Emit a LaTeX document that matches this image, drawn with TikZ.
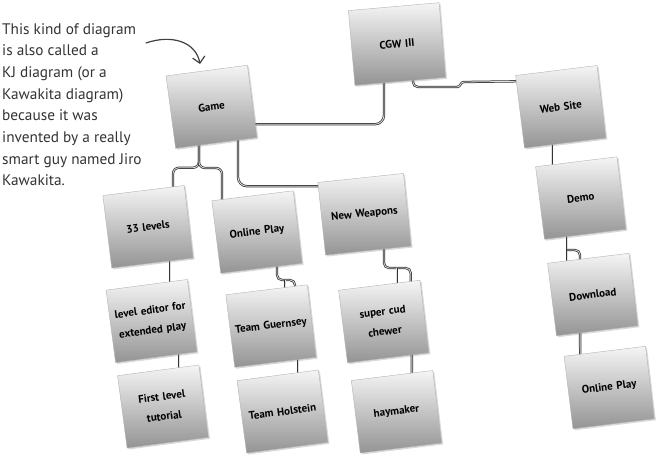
\documentclass[tikz,border=0pt]{standalone}
\usepackage{fontspec}
\setmainfont{PT Sans}
\usetikzlibrary{calc,shadows,arrows.meta}
\pgfdeclarelayer{background}
\pgfsetlayers{background,main}
\begin{document}
\begin{tikzpicture}[x=1pt,y=-1pt,
  kjbox/.style={draw=black!30, line width=0.4pt, top color=black!4, bottom color=black!42,
    minimum width=82pt, minimum height=73pt, inner sep=2pt, align=center, text width=76pt,
    font=\bfseries\fontsize{11}{20}\selectfont, rotate=#1,
    drop shadow={opacity=0.3, shadow xshift=1.5pt, shadow yshift=-1.5pt}},
  kjbox/.default=7,
  conn/.style={draw=black!80, line width=0.75pt, double=black!12, double distance=0.8pt,
    rounded corners=6pt},
  note/.style={align=left, inner sep=0pt, text=black!80, font=\fontsize{15.3}{21.7}\selectfont}]
\useasboundingbox (0,0) rectangle (659,462);

% annotation
\node[note, anchor=north west] (annot) at (2,23) {This kind of diagram\\is also called a\\KJ diagram (or a\\Kawakita diagram)\\because it was\\invented by a really\\smart guy named Jiro\\Kawakita.};
\coordinate (arrS) at (146,43);
\coordinate (arrT) at (200,64);
\draw[black!75, line width=1.2pt, line cap=round, -{Straight Barb[length=6pt,width=12pt,line cap=round]}]
  (arrS) .. controls (172,34) and (196,42) .. (arrT);

% boxes
\node[kjbox=7.5] (game) at (211.5,106.75) {Game};
\node[kjbox=5, minimum width=91pt, minimum height=75pt] (cgw) at (397,44) {CGW III};
\node[kjbox] (web) at (560.75,106.75) {Web Site};
\node[kjbox] (demo) at (580.75,198) {Demo};
\node[kjbox] (download) at (592.75,294.5) {Download};
\node[kjbox] (online2) at (609.25,387.5) {Online Play};
\node[kjbox] (l33) at (148,226.75) {33 levels};
\node[kjbox] (online1) at (257,232) {Online Play};
\node[kjbox=6, minimum width=86pt] (weapons) at (364.5,214.25) {New Weapons};
\node[kjbox=7.5] (editor) at (151.5,321) {level editor for\\extended play};
\node[kjbox=7.5] (tutorial) at (163,406.5) {First level\\tutorial};
\node[kjbox] (guernsey) at (271,326) {Team Guernsey};
\node[kjbox=7.5] (holstein) at (282.5,411.5) {Team Holstein};
\node[kjbox] (cud) at (383.75,321.5) {super cud\\chewer};
\node[kjbox] (haymaker) at (396.5,411.75) {haymaker};

% connectors
\begin{pgfonlayer}{background}
\draw[conn, rounded corners=9pt] ($(game)+(30,17.5)$) -| ($(cgw)+(-13,0)$);
\draw[conn, rounded corners=5pt] ($(cgw)+(16,20)$) |- ($(cgw)+(61,43)$);
\draw[conn, sharp corners] ($(cgw)+(60,43)$) .. controls ($(cgw)+(64,43)$) and ($(cgw)+(63,38)$) .. ($(cgw)+(67,38)$) -- ($(web)+(-20,-25.75)$);
\draw[conn] ($(game)+(-12.5,30)$) |- ($(l33)+(25,-59)$) -- ($(l33)+(25,0)$);
\draw[conn] ($(game)+(-12.5,30)$) |- ($(online1)+(-35,-64)$) -- ($(online1)+(-35,0)$);
\draw[conn, rounded corners=9pt] ($(game)+(26.5,30)$) |- ($(weapons)+(-20,-28)$);
\draw[conn] ($(l33)+(22,0)$) -- ($(editor)+(18.5,0)$);
\draw[conn] ($(editor)+(27.5,0)$) -- ($(tutorial)+(16,0)$);
\draw[conn, rounded corners=5pt] ($(online1)+(20,0)$) |- ($(guernsey)+(24,-46)$) -- ($(guernsey)+(24,0)$);
\draw[conn] ($(guernsey)+(14,-46)$) -- ($(guernsey)+(14,0)$);
\draw[conn] ($(guernsey)+(27,0)$) -- ($(holstein)+(15.5,0)$);
\draw[conn, rounded corners=5pt] ($(weapons)+(19.5,0)$) |- ($(cud)+(27,-53.5)$) -- ($(cud)+(27,0)$);
\draw[conn] ($(cud)+(13,-53.5)$) -- ($(cud)+(13,0)$);
\draw[conn] ($(cud)+(28,0)$) -- ($(haymaker)+(15.5,0)$);
\draw[conn] ($(web)+(-9,0)$) -- ($(demo)+(-29,0)$);
\draw[conn] ($(demo)+(-13.75,0)$) -- ($(download)+(-25.75,0)$);
\draw[conn, rounded corners=5pt] ($(download)+(-25.75,-44.5)$) -| ($(download)+(-12.75,0)$);
\draw[conn] ($(download)+(-12.75,0)$) -- ($(online2)+(-29,0)$);
\end{pgfonlayer}
\end{tikzpicture}
\end{document}
